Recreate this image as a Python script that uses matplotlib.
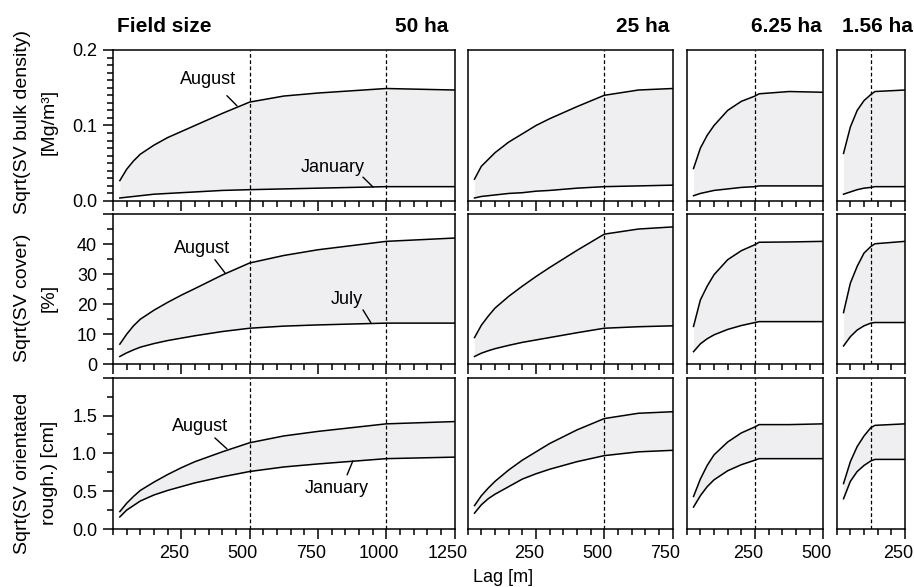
import matplotlib
matplotlib.use("Agg")
import matplotlib.pyplot as plt
from matplotlib.ticker import MultipleLocator, FormatStrFormatter
from matplotlib.transforms import ScaledTranslation

plt.rcParams['font.family'] = ['Liberation Sans', 'DejaVu Sans']

# ---- lag distances (m) per field size ----
lag_50 = [25, 50, 75, 100, 150, 200, 250, 300, 400, 500, 625, 750, 1000, 1250]
lag_25 = [25, 50, 75, 100, 150, 200, 250, 300, 400, 500, 625, 750]
lag_625 = [25, 50, 75, 100, 150, 200, 250, 265, 375, 500]
lag_156 = [25, 50, 75, 100, 125, 140, 250]

# ---- sqrt of semivariance: bulk density [Mg/m3] ----
bd_aug_50 = [0.027, 0.042, 0.053, 0.062, 0.074, 0.084, 0.092, 0.100, 0.116, 0.131, 0.139, 0.143, 0.149, 0.147]
bd_jan_50 = [0.004, 0.005, 0.006, 0.007, 0.009, 0.010, 0.011, 0.012, 0.014, 0.015, 0.016, 0.017, 0.019, 0.019]
bd_aug_25 = [0.029, 0.046, 0.055, 0.064, 0.078, 0.089, 0.100, 0.109, 0.125, 0.140, 0.147, 0.149]
bd_jan_25 = [0.004, 0.006, 0.007, 0.008, 0.010, 0.011, 0.013, 0.014, 0.017, 0.019, 0.020, 0.021]
bd_aug_625 = [0.043, 0.070, 0.087, 0.100, 0.120, 0.132, 0.139, 0.142, 0.145, 0.144]
bd_jan_625 = [0.007, 0.010, 0.012, 0.014, 0.016, 0.018, 0.019, 0.020, 0.020, 0.020]
bd_aug_156 = [0.063, 0.098, 0.120, 0.133, 0.141, 0.145, 0.147]
bd_jan_156 = [0.009, 0.012, 0.015, 0.017, 0.018, 0.019, 0.019]

# ---- sqrt of semivariance: cover [%] ----
cv_aug_50 = [6.7, 10.0, 12.8, 15.0, 18.0, 20.6, 23.0, 25.2, 29.7, 33.7, 36.2, 38.1, 40.9, 42.0]
cv_jul_50 = [2.6, 3.8, 4.8, 5.7, 6.9, 7.9, 8.7, 9.5, 10.9, 12.0, 12.7, 13.1, 13.7, 13.7]
cv_aug_25 = [8.9, 13.0, 16.0, 18.7, 22.6, 26.0, 29.2, 32.2, 37.9, 43.3, 45.0, 45.7]
cv_jul_25 = [2.6, 3.7, 4.5, 5.2, 6.3, 7.3, 8.1, 8.9, 10.5, 12.0, 12.5, 12.8]
cv_aug_625 = [12.6, 21.4, 26.0, 29.8, 34.8, 37.8, 39.8, 40.6, 40.7, 40.9]
cv_jul_625 = [4.2, 6.8, 8.5, 9.8, 11.6, 12.9, 13.9, 14.2, 14.2, 14.2]
cv_aug_156 = [17.2, 27.0, 32.6, 37.0, 39.2, 40.1, 40.9]
cv_jul_156 = [6.1, 9.2, 11.4, 12.8, 13.7, 13.9, 13.9]

# ---- sqrt of semivariance: orientated roughness [cm] ----
rg_aug_50 = [0.23, 0.34, 0.43, 0.51, 0.62, 0.72, 0.81, 0.89, 1.02, 1.14, 1.23, 1.29, 1.39, 1.42]
rg_jan_50 = [0.16, 0.25, 0.31, 0.37, 0.45, 0.51, 0.56, 0.61, 0.69, 0.76, 0.82, 0.86, 0.93, 0.95]
rg_aug_25 = [0.31, 0.44, 0.54, 0.63, 0.78, 0.91, 1.02, 1.13, 1.31, 1.46, 1.53, 1.55]
rg_jan_25 = [0.21, 0.32, 0.40, 0.46, 0.56, 0.66, 0.73, 0.79, 0.89, 0.97, 1.02, 1.04]
rg_aug_625 = [0.43, 0.66, 0.84, 0.98, 1.15, 1.27, 1.35, 1.38, 1.38, 1.39]
rg_jan_625 = [0.29, 0.44, 0.56, 0.65, 0.77, 0.85, 0.91, 0.93, 0.93, 0.93]
rg_aug_156 = [0.60, 0.89, 1.09, 1.23, 1.34, 1.37, 1.39]
rg_jan_156 = [0.40, 0.63, 0.76, 0.84, 0.90, 0.92, 0.92]

field_sizes = ["50 ha", "25 ha", "6.25 ha", "1.56 ha"]
lag_max = [1250, 750, 500, 250]
half_width_marks = [[500, 1000], [500], [250], [125]]
row_labels = [("Sqrt(SV bulk density)", "[Mg/m³]"),
              ("Sqrt(SV cover)", "[%]"),
              ("Sqrt(SV orientated", "rough.) [cm]")]

lags = [lag_50, lag_25, lag_625, lag_156]
upper = [[bd_aug_50, bd_aug_25, bd_aug_625, bd_aug_156],
         [cv_aug_50, cv_aug_25, cv_aug_625, cv_aug_156],
         [rg_aug_50, rg_aug_25, rg_aug_625, rg_aug_156]]
lower = [[bd_jan_50, bd_jan_25, bd_jan_625, bd_jan_156],
         [cv_jul_50, cv_jul_25, cv_jul_625, cv_jul_156],
         [rg_jan_50, rg_jan_25, rg_jan_625, rg_jan_156]]

W, H = 914, 587
fig = plt.figure(figsize=(W / 100, H / 100), dpi=100)

px_per_m = 68.3 / 250.0
col_left = [113, 467.7, 686.7, 836.7]
row_span = [(50, 201), (214, 364.3), (377.7, 529)]
ylims = [(0, 0.2), (0, 50), (0, 2.0)]
y_major = [0.1, 10, 0.5]
y_minor = [0.01, 5, 0.25]
y_fmt = ["%.1f", "%d", "%.1f"]

FILL = "#efeff1"
TICK_FS = 13
axes = [[None] * 4 for _ in range(3)]
xlabel_shift = ScaledTranslation(-7 / 100, 0, fig.dpi_scale_trans)

for r in range(3):
    top, bot = row_span[r]
    for c in range(4):
        left = col_left[c]
        width = lag_max[c] * px_per_m
        ax = fig.add_axes([left / W, 1 - bot / H, width / W, (bot - top) / H])
        axes[r][c] = ax
        x = lags[c]
        ax.fill_between(x, lower[r][c], upper[r][c], color=FILL, lw=0, zorder=1)
        ax.plot(x, upper[r][c], color="black", lw=1.1, zorder=3)
        ax.plot(x, lower[r][c], color="black", lw=1.1, zorder=3)
        for xm in half_width_marks[c]:
            ax.axvline(xm, color="black", lw=0.9, ls=(0, (3, 2)), zorder=2)
        ax.set_xlim(0, lag_max[c])
        ax.set_ylim(*ylims[r])
        for sp in ax.spines.values():
            sp.set_linewidth(1.1)
        ax.xaxis.set_major_locator(MultipleLocator(250))
        ax.xaxis.set_minor_locator(MultipleLocator(50))
        ax.yaxis.set_major_locator(MultipleLocator(y_major[r]))
        ax.yaxis.set_minor_locator(MultipleLocator(y_minor[r]))
        ax.yaxis.set_major_formatter(FormatStrFormatter(y_fmt[r]))
        ax.tick_params(which="both", direction="out", top=False, right=False,
                       width=1.1, labelsize=TICK_FS, pad=4)
        ax.tick_params(which="major", length=7.5)
        ax.tick_params(which="minor", length=4)
        if c > 0:
            ax.tick_params(which="both", left=False, labelleft=False)
        if r < 2:
            ax.tick_params(labelbottom=False)
        else:
            ticks = list(range(250, lag_max[c] + 1, 250))
            ax.set_xticks(ticks)
            ax.set_xticklabels([str(t) for t in ticks])
            for lab in ax.get_xticklabels():
                lab.set_transform(lab.get_transform() + xlabel_shift)
        if c == 0:
            # the top y tick of the lower two rows carries no number
            yt = ax.get_yticks()
            labs = [y_fmt[r] % v if (v < ylims[r][1] - 1e-9 or r == 0) else "" for v in yt]
            ax.set_yticks(yt)
            ax.set_yticklabels(labs)
            ax.set_ylim(*ylims[r])

# column headings
fig.text(117 / W, 1 - 32 / H, "Field size", fontsize=15, fontweight="bold",
         ha="left", va="baseline")
head_right = [448, 669, 821.7, 912.7]
for c in range(4):
    fig.text(head_right[c] / W, 1 - 32 / H, field_sizes[c], fontsize=15,
             fontweight="bold", ha="right", va="baseline")

# row labels (two lines each)
label_centre_y = [122, 298, 473]
for r in range(3):
    l1, l2 = row_labels[r]
    fig.text(23 / W, 1 - label_centre_y[r] / H, l1, rotation=90, fontsize=14,
             ha="center", va="center")
    fig.text(49 / W, 1 - label_centre_y[r] / H, l2, rotation=90, fontsize=14,
             ha="center", va="center")

fig.text(503 / W, 1 - 578 / H, "Lag [m]", fontsize=13, ha="center", va="center")

# month labels with leader lines (50 ha column)
notes = [
    (0, "August", (348, 0.1605), (417, 0.1395), (454, 0.126)),
    (0, "January", (805, 0.0447), (915, 0.0316), (952, 0.0184)),
    (1, "August", (326, 38.4), (373, 34.8), (410, 30.4)),
    (1, "July", (857, 21.4), (915, 18.1), (944, 13.8)),
    (2, "August", (318, 1.35), (373, 1.204), (417, 1.06)),
    (2, "January", (820, 0.53), (857, 0.716), (878, 0.90)),
]
for r, txt, tpos, p0, p1 in notes:
    ax = axes[r][0]
    ax.text(tpos[0], tpos[1], txt, fontsize=13, ha="center", va="center", zorder=5)
    ax.annotate("", xy=p1, xytext=p0,
                arrowprops=dict(arrowstyle="-", lw=1.0, color="black",
                                shrinkA=0, shrinkB=0))

fig.savefig("out.png", dpi=100)
